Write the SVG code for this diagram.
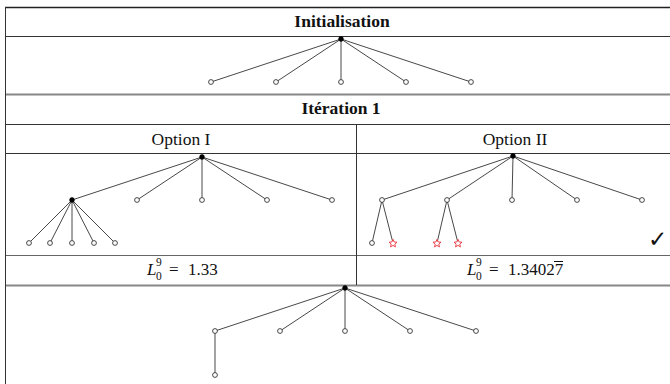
<svg xmlns="http://www.w3.org/2000/svg" xmlns:xlink="http://www.w3.org/1999/xlink" width="670" height="384" viewBox="0 0 670 384">
<style>
  .bg{fill:#ffffff}
  .rule{stroke:#333;stroke-width:1;fill:none}
  .rule-top{stroke:#222;stroke-width:1.6}
  .rule-mid{stroke:#888;stroke-width:2}
  .rule-light{stroke:#666;stroke-width:1}
  .edge{stroke:#333;stroke-width:0.9;fill:none}
  .leaf{fill:#fff;stroke:#333;stroke-width:0.9}
  .inner{fill:#000;stroke:#000;stroke-width:0.6}
  .star{fill:#fff;stroke:#e8323c;stroke-width:0.9;stroke-linejoin:miter}
  .head{font-family:"Liberation Serif",serif;font-weight:bold;font-size:17.5px;fill:#111;text-anchor:middle}
  .opt{font-family:"Liberation Serif",serif;font-size:17.5px;fill:#111;text-anchor:middle}
  .math{font-family:"Liberation Serif",serif;font-size:17px;fill:#111}
  .mi{font-style:italic}
  .sm{font-size:11.5px}
  .check{font-family:"DejaVu Sans",sans-serif;font-size:23px;fill:#111}
</style>
<defs>
  <path id="starShape" d="M0,-4.2 L1.12,-1.54 L3.99,-1.3 L1.81,0.59 L2.47,3.4 L0,1.9 L-2.47,3.4 L-1.81,0.59 L-3.99,-1.3 L-1.12,-1.54 Z"/>
</defs>
<rect class="bg" x="0" y="0" width="670" height="384"/>

<g id="table">
  <line class="rule rule-top" x1="5" y1="7.5" x2="670" y2="7.5"/>
  <line class="rule" x1="5" y1="36.5" x2="670" y2="36.5"/>
  <line class="rule rule-mid" x1="5" y1="94.5" x2="670" y2="94.5"/>
  <line class="rule" x1="5" y1="124.5" x2="670" y2="124.5"/>
  <line class="rule" x1="5" y1="153.5" x2="670" y2="153.5"/>
  <line class="rule rule-light" x1="5" y1="255.5" x2="670" y2="255.5"/>
  <line class="rule rule-mid" x1="5" y1="285.5" x2="670" y2="285.5"/>
  <line class="rule" x1="5.5" y1="7" x2="5.5" y2="384"/>
  <line class="rule" x1="356.5" y1="124.5" x2="356.5" y2="285"/>
</g>

<g id="labels">
  <text class="head" x="342" y="27">Initialisation</text>
  <text class="head" x="341" y="114">Itération 1</text>
  <text class="opt" x="181" y="145">Option I</text>
  <text class="opt" x="515" y="145">Option II</text>
  <text class="math" y="275"><tspan class="mi" x="147">L</tspan><tspan class="sm" x="156" y="266">9</tspan><tspan class="sm" x="156" y="280">0</tspan><tspan x="169" y="275">=</tspan><tspan x="188">1.33</tspan></text>
  <text class="math" y="275"><tspan class="mi" x="467">L</tspan><tspan class="sm" x="476" y="266">9</tspan><tspan class="sm" x="476" y="280">0</tspan><tspan x="489" y="275">=</tspan><tspan x="508">1.34027</tspan></text>
  <line x1="554" y1="261.5" x2="563" y2="261.5" stroke="#111" stroke-width="1"/>
  <text class="check" x="648" y="247">✓</text>
</g>

<g id="connectors">
  <line class="edge" x1="341" y1="39" x2="211" y2="82"/>
  <line class="edge" x1="341" y1="39" x2="276" y2="82"/>
  <line class="edge" x1="341" y1="39" x2="341" y2="82"/>
  <line class="edge" x1="341" y1="39" x2="406" y2="82"/>
  <line class="edge" x1="341" y1="39" x2="471" y2="82"/>
  <line class="edge" x1="202" y1="157" x2="72" y2="200"/>
  <line class="edge" x1="202" y1="157" x2="137" y2="200"/>
  <line class="edge" x1="202" y1="157" x2="202" y2="200"/>
  <line class="edge" x1="202" y1="157" x2="267" y2="200"/>
  <line class="edge" x1="202" y1="157" x2="332" y2="200"/>
  <line class="edge" x1="72" y1="200" x2="29" y2="243"/>
  <line class="edge" x1="72" y1="200" x2="50" y2="243"/>
  <line class="edge" x1="72" y1="200" x2="72" y2="243"/>
  <line class="edge" x1="72" y1="200" x2="94" y2="243"/>
  <line class="edge" x1="72" y1="200" x2="115" y2="243"/>
  <line class="edge" x1="513" y1="156" x2="382" y2="200"/>
  <line class="edge" x1="513" y1="156" x2="447" y2="200"/>
  <line class="edge" x1="513" y1="156" x2="512" y2="200"/>
  <line class="edge" x1="513" y1="156" x2="577" y2="200"/>
  <line class="edge" x1="513" y1="156" x2="642" y2="200"/>
  <line class="edge" x1="382" y1="200" x2="372" y2="243"/>
  <line class="edge" x1="382" y1="200" x2="393" y2="243"/>
  <line class="edge" x1="447" y1="200" x2="437" y2="243"/>
  <line class="edge" x1="447" y1="200" x2="458" y2="243"/>
  <line class="edge" x1="345" y1="288" x2="215" y2="331"/>
  <line class="edge" x1="345" y1="288" x2="280" y2="331"/>
  <line class="edge" x1="345" y1="288" x2="345" y2="331"/>
  <line class="edge" x1="345" y1="288" x2="410" y2="331"/>
  <line class="edge" x1="345" y1="288" x2="476" y2="331"/>
  <line class="edge" x1="215" y1="331" x2="215" y2="375"/>
</g>

<g id="tree-init">
  <g id="init-root"><circle class="inner" cx="341" cy="39" r="2.4"/></g>
  <g id="init-c1"><circle class="leaf" cx="211" cy="82" r="2.4"/></g>
  <g id="init-c2"><circle class="leaf" cx="276" cy="82" r="2.4"/></g>
  <g id="init-c3"><circle class="leaf" cx="341" cy="82" r="2.4"/></g>
  <g id="init-c4"><circle class="leaf" cx="406" cy="82" r="2.4"/></g>
  <g id="init-c5"><circle class="leaf" cx="471" cy="82" r="2.4"/></g>
</g>

<g id="tree-opt1">
  <g id="o1-root"><circle class="inner" cx="202" cy="157" r="2.4"/></g>
  <g id="o1-c1"><circle class="inner" cx="72" cy="200" r="2.4"/></g>
  <g id="o1-c2"><circle class="leaf" cx="137" cy="200" r="2.4"/></g>
  <g id="o1-c3"><circle class="leaf" cx="202" cy="200" r="2.4"/></g>
  <g id="o1-c4"><circle class="leaf" cx="267" cy="200" r="2.4"/></g>
  <g id="o1-c5"><circle class="leaf" cx="332" cy="200" r="2.4"/></g>
  <g id="o1-g1"><circle class="leaf" cx="29" cy="243" r="2.4"/></g>
  <g id="o1-g2"><circle class="leaf" cx="50" cy="243" r="2.4"/></g>
  <g id="o1-g3"><circle class="leaf" cx="72" cy="243" r="2.4"/></g>
  <g id="o1-g4"><circle class="leaf" cx="94" cy="243" r="2.4"/></g>
  <g id="o1-g5"><circle class="leaf" cx="115" cy="243" r="2.4"/></g>
</g>

<g id="tree-opt2">
  <g id="o2-root"><circle class="inner" cx="513" cy="156" r="2.4"/></g>
  <g id="o2-c1"><circle class="leaf" cx="382" cy="200" r="2.4"/></g>
  <g id="o2-c2"><circle class="leaf" cx="447" cy="200" r="2.4"/></g>
  <g id="o2-c3"><circle class="leaf" cx="512" cy="200" r="2.4"/></g>
  <g id="o2-c4"><circle class="leaf" cx="577" cy="200" r="2.4"/></g>
  <g id="o2-c5"><circle class="leaf" cx="642" cy="200" r="2.4"/></g>
  <g id="o2-g1"><circle class="leaf" cx="372" cy="243" r="2.4"/></g>
  <g id="o2-g2"><use class="star" href="#starShape" xlink:href="#starShape" x="393" y="243.5"/></g>
  <g id="o2-g3"><use class="star" href="#starShape" xlink:href="#starShape" x="437" y="243.5"/></g>
  <g id="o2-g4"><use class="star" href="#starShape" xlink:href="#starShape" x="458" y="243.5"/></g>
</g>

<g id="tree-result">
  <g id="r-root"><circle class="inner" cx="345" cy="288" r="2.4"/></g>
  <g id="r-c1"><circle class="leaf" cx="215" cy="331" r="2.4"/></g>
  <g id="r-c2"><circle class="leaf" cx="280" cy="331" r="2.4"/></g>
  <g id="r-c3"><circle class="leaf" cx="345" cy="331" r="2.4"/></g>
  <g id="r-c4"><circle class="leaf" cx="410" cy="331" r="2.4"/></g>
  <g id="r-c5"><circle class="leaf" cx="476" cy="331" r="2.4"/></g>
  <g id="r-g1"><circle class="leaf" cx="215" cy="375" r="2.4"/></g>
</g>
</svg>
